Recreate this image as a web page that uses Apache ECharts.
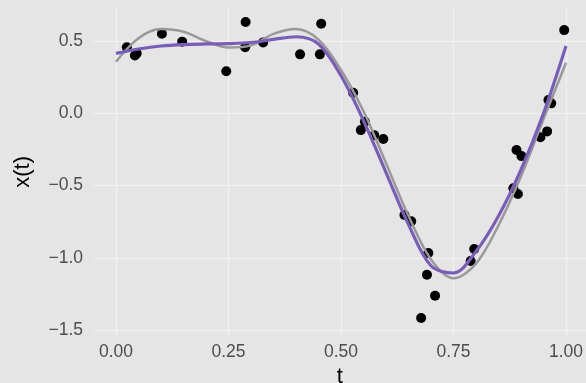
<!DOCTYPE html>
<html>
<head>
<meta charset="utf-8">
<script src="https://cdn.jsdelivr.net/npm/echarts@6/dist/echarts.min.js"></script>
<style>
  html, body { margin: 0; padding: 0; background: #E5E5E5; }
  #chart { width: 586px; height: 383px; }
</style>
</head>
<body>
<div id="chart"></div>
<script>
// Observations (t, x)
const obsT = [0.024, 0.042, 0.046, 0.102, 0.147, 0.245, 0.287, 0.288, 0.327, 0.409,
              0.453, 0.456, 0.527, 0.544, 0.553, 0.574, 0.594, 0.641, 0.656, 0.678,
              0.691, 0.694, 0.709, 0.788, 0.796, 0.883, 0.890, 0.893, 0.901, 0.943,
              0.958, 0.961, 0.967, 0.996];
const obsX = [0.457, 0.400, 0.415, 0.551, 0.496, 0.291, 0.457, 0.632, 0.491, 0.408,
              0.408, 0.620, 0.143, -0.116, -0.058, -0.152, -0.178, -0.704, -0.747, -1.417,
              -1.117, -0.967, -1.262, -1.022, -0.939, -0.519, -0.254, -0.558, -0.296, -0.166,
              -0.125, 0.092, 0.069, 0.576];

// Curves sampled every 0.05 in t
const curveT = [0.00, 0.05, 0.10, 0.15, 0.20, 0.25, 0.30, 0.35, 0.40, 0.45, 0.50,
                0.55, 0.60, 0.65, 0.70, 0.75, 0.80, 0.85, 0.90, 0.95, 1.00];
// Reference curve (grey)
const trueX = [0.357, 0.520, 0.583, 0.565, 0.500, 0.455, 0.470, 0.550, 0.583, 0.510, 0.300,
               0.014, -0.345, -0.710, -1.012, -1.142, -1.040, -0.775, -0.436, -0.040, 0.350];
// Fitted curve (purple)
const fitX = [0.415, 0.445, 0.466, 0.476, 0.480, 0.482, 0.490, 0.512, 0.530, 0.480, 0.260,
              -0.050, -0.410, -0.770, -1.055, -1.105, -0.955, -0.710, -0.390, 0.000, 0.466];

// Tick positions
const xTicks = [0, 0.25, 0.5, 0.75, 1];
const yTicks = [-1.5, -1, -0.5, 0, 0.5];

const zip = (a, b) => a.map((v, i) => [v, b[i]]);
const minus = s => s.replace('-', '\u2212');

const chart = echarts.init(document.getElementById('chart'), null, { renderer: 'canvas' });

const fontFamily = 'Liberation Sans, Arial, sans-serif';
const gridColor = '#F0F0F0';
const tickFont = { color: '#4D4D4D', fontSize: 17.5, fontFamily };
const titleFont = { color: '#000000', fontSize: 22, fontFamily };

chart.setOption({
  animation: false,
  backgroundColor: '#E5E5E5',
  grid: {
    left: 93.5, right: 0, top: 6.4, bottom: 45.7,
    containLabel: false,
    outerBoundsMode: 'none'
  },
  xAxis: {
    type: 'value',
    min: -0.05,
    max: 1.0444,
    name: 't',
    nameLocation: 'middle',
    nameGap: 26,
    nameTextStyle: titleFont,
    axisLine: { show: false },
    axisTick: { show: false, customValues: xTicks },
    axisLabel: { customValues: xTicks, margin: 6, formatter: v => v.toFixed(2), ...tickFont },
    splitLine: { show: true, lineStyle: { color: gridColor, width: 1.3 } }
  },
  yAxis: {
    type: 'value',
    min: -1.55,
    max: 0.74,
    name: 'x(t)',
    nameLocation: 'middle',
    nameGap: 60,
    nameTextStyle: titleFont,
    axisLine: { show: false },
    axisTick: { show: false, customValues: yTicks },
    axisLabel: { customValues: yTicks, margin: 10.5, formatter: v => minus(v.toFixed(1)), ...tickFont },
    splitLine: { show: true, lineStyle: { color: gridColor, width: 1.3 } }
  },
  series: [
    {
      name: 'observed',
      type: 'scatter',
      data: zip(obsT, obsX),
      symbol: 'circle',
      symbolSize: 10,
      itemStyle: { color: '#000000', opacity: 1 },
      z: 2
    },
    {
      name: 'true',
      type: 'line',
      data: zip(curveT, trueX),
      smooth: 0.34,
      smoothConstraint: false,
      showSymbol: false,
      lineStyle: { color: '#999999', width: 2.5 },
      z: 3
    },
    {
      name: 'fit',
      type: 'line',
      data: zip(curveT, fitX),
      smooth: 0.34,
      smoothConstraint: false,
      showSymbol: false,
      lineStyle: { color: '#7A5DB8', width: 3.2 },
      z: 4
    }
  ]
});
</script>
</body>
</html>
